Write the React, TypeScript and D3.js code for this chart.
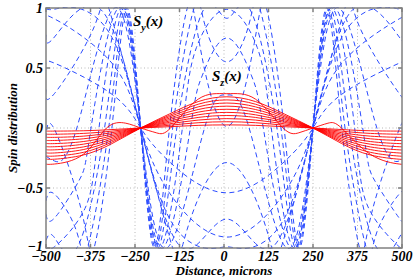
import * as d3 from "d3";

const W = 415;
const H = 277;
const margin = { top: 8, right: 13, bottom: 29, left: 46 };

const xTicks = [-500, -375, -250, -125, 0, 125, 250, 375, 500];
const yTicks = [-1, -0.5, 0, 0.5, 1];
const yTickLabels = ["\u22121", "\u22120.5", "0", "0.5", "1"];

// S_y(x) curves as [x, y] pairs
const sy1 = [[-500, 0.534], [-476, 0.54], [-314.7, 0.281], [-234, 0], [-153.3, -0.281], [8, -0.54], [169.3, -0.281], [250, 0], [330.7, 0.281], [492, 0.54], [500, 0.539]];
const sy2 = [[-500, 0.903], [-476, 0.909], [-314.7, 0.54], [-234, 0], [-153.3, -0.54], [8, -0.909], [169.3, -0.54], [250, 0], [330.7, 0.54], [492, 0.909], [500, 0.908]];
const sy3 = [[-500, 0.993], [-476, 0.99], [-413.4, 1], [-314.7, 0.754], [-234, 0], [-153.3, -0.754], [-54.6, -1], [8, -0.99], [70.6, -1], [169.3, -0.754], [250, 0], [330.7, 0.754], [429.4, 1], [492, 0.99], [500, 0.991]];
const sy4 = [[-500, 0.777], [-476, 0.759], [-351.1, 1], [-234, 0], [-116.9, -1], [8, -0.759], [132.9, -1], [250, 0], [367.1, 1], [492, 0.759], [500, 0.761]];
const sy5 = [[-500, 0.32], [-476, 0.288], [-364.7, 0.843], [-323.9, 1], [-234, 0], [-144.1, -1], [-103.3, -0.843], [8, -0.288], [119.3, -0.843], [160.1, -1], [250, 0], [339.9, 1], [380.7, 0.843], [492, 0.288], [500, 0.291]];
const sy6 = [[-500, -0.235], [-476, -0.275], [-413.4, 0], [-307.5, 1], [-234, 0], [-160.5, -1], [-54.6, 0], [8, 0.275], [70.6, 0], [176.5, -1], [250, 0], [323.5, 1], [429.4, 0], [492, -0.275], [500, -0.271]];
const sy7 = [[-500, -0.718], [-476, -0.75], [-406.5, -0.434], [-373.6, 0], [-296.3, 1], [-234, 0], [-171.7, -1], [-94.4, 0], [-61.5, 0.434], [8, 0.75], [77.5, 0.434], [110.4, 0], [187.7, -1], [250, 0], [312.3, 1], [389.6, 0], [422.5, -0.434], [492, -0.75], [500, -0.747]];
const sy8 = [[-500, -0.979], [-476, -0.989], [-390.5, -0.67], [-351.1, 0], [-288.2, 1], [-234, 0], [-179.8, -1], [-116.9, 0], [-77.5, 0.67], [8, 0.989], [93.5, 0.67], [132.9, 0], [195.8, -1], [250, 0], [304.2, 1], [367.1, 0], [406.5, -0.67], [492, -0.989], [500, -0.988]];
const sy9 = [[-500, -0.937], [-476, -0.914], [-413.4, -1], [-335.5, 0], [-281.9, 1], [-234, 0], [-186.1, -1], [-132.5, 0], [-54.6, 1], [8, 0.914], [70.6, 1], [148.5, 0], [201.9, -1], [250, 0], [298.1, 1], [351.5, 0], [429.4, -1], [492, -0.914], [500, -0.917]];
const sy10 = [[-500, -0.607], [-476, -0.551], [-414, -0.862], [-383.9, -1], [-323.9, 0], [-277, 1], [-234, 0], [-191, -1], [-144.1, 0], [-84.1, 1], [-54, 0.862], [8, 0.551], [70, 0.862], [100.1, 1], [160.1, 0], [207, -1], [250, 0], [293, 1], [339.9, 0], [399.9, -1], [430, -0.862], [492, -0.551], [500, -0.557]];
const sy11 = [[-500, -0.088], [-476, -0.013], [-399, -0.706], [-365, -1], [-314.9, 0], [-273, 1], [-234, 0], [-195, -1], [-153.1, 0], [-103, 1], [-69, 0.706], [8, 0.013], [85, 0.706], [119, 1], [168.9, 0], [211, -1], [250, 0], [289, 1], [330.9, 0], [381, -1], [415, -0.706], [492, -0.013], [500, -0.021]];
const syCurves = [sy1, sy2, sy3, sy4, sy5, sy6, sy7, sy8, sy9, sy10, sy11];

// S_z(x) curves
const sz1 = [[-500, -0.026], [-476, -0.026], [-395.4, -0.023], [-314.7, -0.013], [-234, 0], [-153.3, 0.011], [-72.7, 0.022], [8, 0.026], [88.7, 0.022], [169.3, 0.011], [250, 0], [330.7, -0.013], [411.4, -0.023], [492, -0.026], [500, -0.026]];
const sz2 = [[-500, -0.051], [-476, -0.052], [-395.4, -0.045], [-314.7, -0.026], [-234, 0], [-153.3, 0.023], [-72.7, 0.044], [8, 0.052], [88.7, 0.044], [169.3, 0.023], [250, 0], [330.7, -0.026], [411.4, -0.045], [492, -0.052], [500, -0.052]];
const sz3 = [[-500, -0.077], [-476, -0.078], [-395.4, -0.068], [-314.7, -0.039], [-234, 0], [-153.3, 0.035], [-72.7, 0.066], [8, 0.078], [88.7, 0.066], [169.3, 0.035], [250, 0], [330.7, -0.039], [411.4, -0.068], [492, -0.078], [500, -0.078]];
const sz4 = [[-500, -0.103], [-476, -0.104], [-395.4, -0.09], [-314.7, -0.052], [-234, 0], [-153.3, 0.047], [-72.7, 0.088], [8, 0.104], [88.7, 0.088], [169.3, 0.047], [250, 0], [330.7, -0.052], [411.4, -0.09], [492, -0.104], [500, -0.104]];
const sz5 = [[-500, -0.128], [-476, -0.13], [-395.4, -0.113], [-314.7, -0.065], [-234, 0], [-153.3, 0.058], [-72.7, 0.11], [8, 0.13], [88.7, 0.11], [169.3, 0.058], [250, 0], [330.7, -0.065], [411.4, -0.113], [492, -0.13], [500, -0.13]];
const sz6 = [[-500, -0.154], [-476, -0.156], [-395.4, -0.135], [-314.7, -0.078], [-234, 0], [-153.3, 0.07], [-72.7, 0.132], [8, 0.156], [88.7, 0.132], [169.3, 0.07], [250, 0], [330.7, -0.078], [411.4, -0.135], [492, -0.156], [500, -0.156]];
const sz7 = [[-500, -0.18], [-476, -0.182], [-395.4, -0.158], [-314.7, -0.091], [-234, 0], [-153.3, 0.082], [-72.7, 0.154], [8, 0.182], [88.7, 0.154], [169.3, 0.082], [250, 0], [330.7, -0.091], [411.4, -0.158], [492, -0.182], [500, -0.182]];
const sz8 = [[-500, -0.206], [-476, -0.208], [-395.4, -0.18], [-314.7, -0.104], [-234, 0], [-153.3, 0.094], [-72.7, 0.176], [8, 0.208], [88.7, 0.176], [169.3, 0.094], [250, 0], [330.7, -0.104], [411.4, -0.18], [492, -0.208], [500, -0.208]];
const sz9 = [[-500, -0.231], [-476, -0.234], [-395.4, -0.203], [-314.7, -0.117], [-234, 0], [-153.3, 0.105], [-72.7, 0.198], [8, 0.234], [88.7, 0.198], [169.3, 0.105], [250, 0], [330.7, -0.117], [411.4, -0.203], [492, -0.234], [500, -0.234]];
const sz10 = [[-500, -0.257], [-476, -0.26], [-395.4, -0.225], [-314.7, -0.13], [-234, 0], [-153.3, 0.117], [-72.7, 0.22], [8, 0.26], [88.7, 0.22], [169.3, 0.117], [250, 0], [330.7, -0.13], [411.4, -0.225], [492, -0.26], [500, -0.26]];
const sz11 = [[-500, -0.3], [-476, -0.3], [-395.4, -0.22], [-330, 0], [-276, 0.04], [-234, 0], [-190, -0.04], [-150, 0], [-72.7, 0.24], [8, 0.286], [88.7, 0.24], [166, 0], [210, -0.04], [250, 0], [292, 0.04], [330, 0], [411.4, -0.22], [492, -0.3], [500, -0.3]];
const szCurves = [sz1, sz2, sz3, sz4, sz5, sz6, sz7, sz8, sz9, sz10, sz11];

const FONT = "Liberation Serif, Times New Roman, serif";

export default function App() {
  const iw = W - margin.left - margin.right;
  const ih = H - margin.top - margin.bottom;
  const x = d3.scaleLinear().domain([-500, 500]).range([margin.left, margin.left + iw]);
  const y = d3.scaleLinear().domain([-1, 1]).range([margin.top + ih, margin.top]);

  const line = d3
    .line<number[]>()
    .x((d) => x(d[0]))
    .y((d) => y(d[1]))
    .curve(d3.curveNatural);

  const x0 = margin.left;
  const x1 = margin.left + iw;
  const y0 = margin.top;
  const y1 = margin.top + ih;

  const txt = { fontFamily: FONT, fontWeight: 700, fontStyle: "italic" } as const;

  return (
    <svg width={W} height={H} style={{ position: "absolute", left: 0, top: 0, background: "#fff" }}>
      <defs>
        <clipPath id="plot">
          <rect x={x0} y={y0 - 1} width={iw} height={ih + 2} />
        </clipPath>
      </defs>
      {/* grid */}
      <g stroke="#b8b8b8" strokeWidth={1} strokeDasharray="1,2.5">
        {xTicks.slice(1, -1).map((t) => (
          <line key={"gx" + t} x1={x(t)} x2={x(t)} y1={y0} y2={y1} />
        ))}
        {yTicks.slice(1, -1).map((t) => (
          <line key={"gy" + t} x1={x0} x2={x1} y1={y(t)} y2={y(t)} />
        ))}
      </g>
      <g clipPath="url(#plot)" fill="none">
        {syCurves.map((c, i) => (
          <path key={"sy" + i} d={line(c) || ""} stroke="#2a4bff" strokeWidth={1} strokeDasharray="5,3.5" />
        ))}
        {szCurves.map((c, i) => (
          <path key={"sz" + i} d={line(c) || ""} stroke="#ff0000" strokeWidth={0.9} />
        ))}
      </g>
      {/* frame and ticks */}
      <g stroke="#808080" strokeWidth={1.5} fill="none">
        <rect x={x0} y={y0} width={iw} height={ih} />
        {xTicks.map((t) => (
          <g key={"tx" + t}>
            <line x1={x(t)} x2={x(t)} y1={y1} y2={y1 - 4} />
            <line x1={x(t)} x2={x(t)} y1={y0} y2={y0 + 4} />
          </g>
        ))}
        {yTicks.map((t) => (
          <g key={"ty" + t}>
            <line x1={x0} x2={x0 + 4} y1={y(t)} y2={y(t)} />
            <line x1={x1} x2={x1 - 4} y1={y(t)} y2={y(t)} />
          </g>
        ))}
      </g>
      <g style={txt} fontSize={14} fill="#000">
        {xTicks.map((t) => (
          <text key={"lx" + t} x={x(t)} y={261} textAnchor="middle" style={txt}>
            {t < 0 ? "\u2212" + Math.abs(t) : String(t)}
          </text>
        ))}
        {yTicks.map((t, i) => (
          <text key={"ly" + t} x={x0 - 3} y={y(t) + (t === -1 ? 3 : 5)} textAnchor="end" style={txt}>
            {yTickLabels[i]}
          </text>
        ))}
        <text x={(x0 + x1) / 2} y={275} textAnchor="middle" fontSize={13} style={txt}>
          Distance, microns
        </text>
        <text transform={`translate(17,${(y0 + y1) / 2}) rotate(-90)`} textAnchor="middle" fontSize={13} style={txt}>
          Spin distribution
        </text>
        <text x={133} y={26} fontSize={15} style={txt}>
          S<tspan dy={5} fontSize={10}>y</tspan>
          <tspan dy={-5}>(x)</tspan>
        </text>
        <text x={212} y={81} fontSize={15} style={txt}>
          S<tspan dy={5} fontSize={10}>z</tspan>
          <tspan dy={-5}>(x)</tspan>
        </text>
      </g>
    </svg>
  );
}
